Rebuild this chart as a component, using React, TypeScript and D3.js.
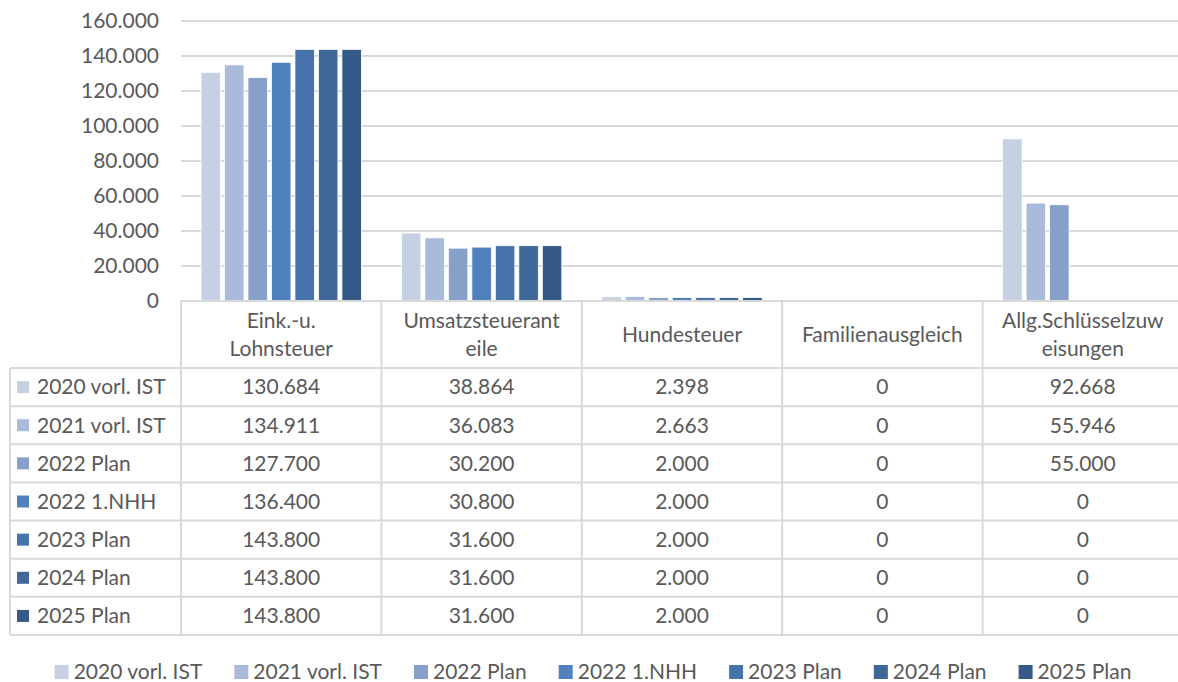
import { useEffect, useRef } from 'react';
import * as d3 from 'd3';

const categoryLines = [
  ['Eink.-u.', 'Lohnsteuer'],
  ['Umsatzsteuerant', 'eile'],
  ['Hundesteuer'],
  ['Familienausgleich'],
  ['Allg.Schlüsselzuw', 'eisungen'],
];

const seriesNames = ['2020 vorl. IST', '2021 vorl. IST', '2022 Plan', '2022 1.NHH', '2023 Plan', '2024 Plan', '2025 Plan'];
const seriesColors = ['#C5D0E3', '#AABADA', '#87A0C9', '#4F81BD', '#4674AA', '#3F6798', '#365A87'];

const ist2020 = [130684, 38864, 2398, 0, 92668];
const ist2021 = [134911, 36083, 2663, 0, 55946];
const plan2022 = [127700, 30200, 2000, 0, 55000];
const nhh2022 = [136400, 30800, 2000, 0, 0];
const plan2023 = [143800, 31600, 2000, 0, 0];
const plan2024 = [143800, 31600, 2000, 0, 0];
const plan2025 = [143800, 31600, 2000, 0, 0];

const seriesValues = [ist2020, ist2021, plan2022, nhh2022, plan2023, plan2024, plan2025];
const yTicks = [0, 20000, 40000, 60000, 80000, 100000, 120000, 140000, 160000];

export default function App() {
  const svgRef = useRef(null);

  useEffect(() => {
    const width = 1178;
    const left = 181;
    const right = 1183;
    const top = 21;
    const zeroY = 301;
    const headerBottom = 368;
    const tableBottom = 635;
    const tableLeft = 10;
    const textColor = '#595959';
    const lineColor = '#D9D9D9';
    const font = 'Lato, "Open Sans", sans-serif';
    const fontSize = 21;

    const svg = d3.select(svgRef.current);
    svg.selectAll('*').remove();
    svg.attr('font-family', font).attr('font-size', fontSize);

    const cats = categoryLines.map((l) => l.join(' '));
    const x0 = d3.scaleBand().domain(cats).range([left, right]).paddingInner(0);
    const bw = x0.bandwidth();
    const x1 = d3.scaleBand().domain(seriesNames).range([20, bw - 20]).paddingInner(0.17);
    const y = d3.scaleLinear().domain([0, 160000]).range([zeroY, top]);

    const fmt = (v) => (v === 0 ? '0' : d3.format(',')(v).replace(/,/g, '.'));

    // gridlines + y labels
    svg.append('g')
      .selectAll('line')
      .data(yTicks.slice(1))
      .join('line')
      .attr('x1', left)
      .attr('x2', width)
      .attr('y1', (d) => y(d))
      .attr('y2', (d) => y(d))
      .attr('stroke', lineColor)
      .attr('stroke-width', 2);

    svg.append('g')
      .selectAll('text')
      .data(yTicks)
      .join('text')
      .attr('x', 159)
      .attr('y', (d) => y(d))
      .attr('dy', '0.35em')
      .attr('text-anchor', 'end')
      .attr('fill', textColor)
      .text((d) => fmt(d));

    // bars
    seriesNames.forEach((name, si) => {
      svg.append('g')
        .selectAll('rect')
        .data(seriesValues[si])
        .join('rect')
        .attr('x', (d, i) => x0(cats[i]) + x1(name))
        .attr('width', x1.bandwidth())
        .attr('y', (d) => y(d))
        .attr('height', (d) => zeroY - y(d))
        .attr('fill', seriesColors[si])
        .attr('stroke', '#fff')
        .attr('stroke-width', 0.8);
    });

    // data table grid
    const rowH = (tableBottom - headerBottom) / seriesNames.length;
    const grid = svg.append('g').attr('stroke', lineColor).attr('stroke-width', 2);
    grid.append('line').attr('x1', left).attr('x2', width).attr('y1', zeroY).attr('y2', zeroY);
    d3.range(seriesNames.length + 1).forEach((r) => {
      const yy = headerBottom + r * rowH;
      grid.append('line').attr('x1', tableLeft).attr('x2', width).attr('y1', yy).attr('y2', yy);
    });
    grid.append('line').attr('x1', tableLeft).attr('x2', tableLeft).attr('y1', headerBottom).attr('y2', tableBottom);
    cats.forEach((c) => {
      grid.append('line').attr('x1', x0(c)).attr('x2', x0(c)).attr('y1', zeroY).attr('y2', tableBottom);
    });

    // header labels
    categoryLines.forEach((lines, i) => {
      const cx = x0(cats[i]) + bw / 2;
      const mid = (zeroY + headerBottom) / 2;
      lines.forEach((ln, li) => {
        svg.append('text')
          .attr('x', cx)
          .attr('y', mid + (li - (lines.length - 1) / 2) * 28)
          .attr('dy', '0.35em')
          .attr('text-anchor', 'middle')
          .attr('fill', textColor)
          .text(ln);
      });
    });

    // rows
    seriesNames.forEach((name, si) => {
      const cy = headerBottom + si * rowH + rowH / 2;
      svg.append('rect')
        .attr('x', 17).attr('y', cy - 6).attr('width', 12).attr('height', 12)
        .attr('fill', seriesColors[si]);
      svg.append('text')
        .attr('x', 37).attr('y', cy).attr('dy', '0.35em')
        .attr('fill', textColor).text(name);
      seriesValues[si].forEach((v, i) => {
        svg.append('text')
          .attr('x', x0(cats[i]) + bw / 2).attr('y', cy).attr('dy', '0.35em')
          .attr('text-anchor', 'middle').attr('fill', textColor).text(fmt(v));
      });
    });

    // legend
    const legend = svg.append('g');
    const items = seriesNames.map((name, si) => {
      const g = legend.append('g');
      g.append('rect').attr('x', 0).attr('y', -7).attr('width', 14).attr('height', 14).attr('fill', seriesColors[si]);
      const t = g.append('text').attr('x', 19).attr('dy', '0.35em').attr('fill', textColor).text(name);
      return { g, w: 19 + t.node().getComputedTextLength() };
    });
    const gap = 32;
    const total = d3.sum(items, (d) => d.w) + gap * (items.length - 1);
    let cx = 593 - total / 2;
    items.forEach((it) => {
      it.g.attr('transform', `translate(${cx},672)`);
      cx += it.w + gap;
    });
  }, []);

  return (
    <div style={{ position: 'absolute', left: 0, top: 0 }}>
      <svg ref={svgRef} width={1178} height={682} style={{ display: 'block', background: '#fff' }} />
    </div>
  );
}
